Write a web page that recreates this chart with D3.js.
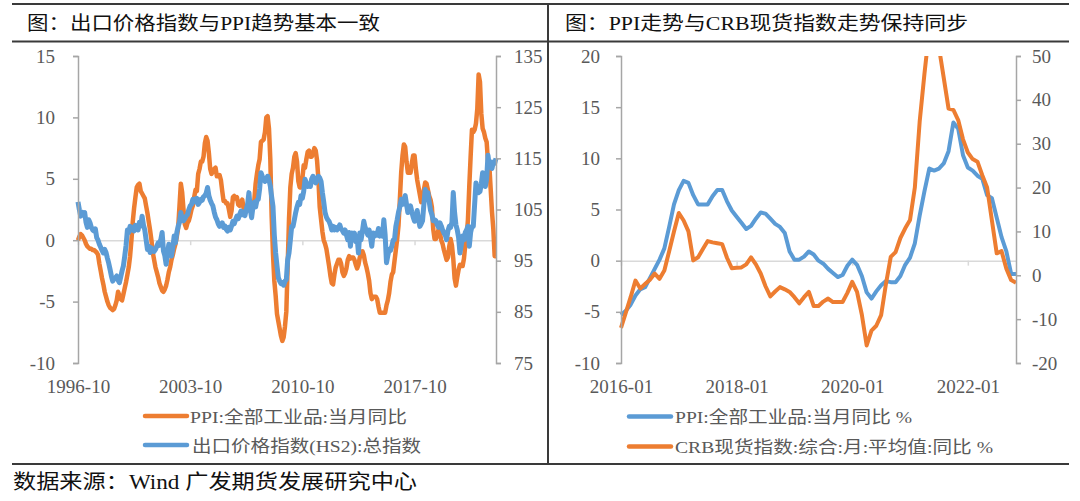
<!DOCTYPE html>
<html><head><meta charset="utf-8">
<script src="https://cdn.jsdelivr.net/npm/d3@7"></script>
<style>body{margin:0;background:#fff}svg{display:block}</style>
</head><body>
<svg id="c" width="1080" height="501"></svg>
<script>
// ---------- DATA ----------
const leftCategories = d3.timeMonth.range(new Date(1996, 9, 1), new Date(2022, 11, 1)).map(d3.timeFormat("%Y-%m"));
const leftTickLabels = ["1996-10", "2003-10", "2010-10", "2017-10"];
const leftYTicks = [-10, -5, 0, 5, 10, 15];
const leftY2Ticks = [75, 85, 95, 105, 115, 125, 135];

const ppiLong = [
  0.0, 0.3, 0.5,
  0.4, 0.2, 0.0, -0.3, -0.5, -0.6, -0.7, -0.7, -0.8, -0.8, -0.9, -1.0,
  -1.2, -1.9, -2.5, -3.1, -3.6, -4.2, -4.6, -5.0, -5.3, -5.5, -5.6, -5.7,
  -5.6, -5.3, -4.9, -4.2, -4.5, -4.8, -4.9, -4.4, -3.9, -3.4, -2.8, -2.2,
  -1.3, 0.0, 1.5, 2.6, 3.5, 4.3, 4.5, 4.6, 4.0, 3.8, 3.6, 3.4,
  2.8, 2.2, 1.5, 0.8, 0.0, -1.0, -1.6, -2.2, -2.6, -3.0, -3.5, -3.8,
  -4.1, -4.2, -4.0, -3.7, -3.2, -2.6, -2.2, -1.6, -1.2, -0.7, -0.3, 0.3,
  1.0, 2.8, 4.6, 3.9, 2.5, 1.3, 1.0, 1.4, 1.6, 2.0, 2.5, 2.8,
  3.5, 4.1, 4.0, 5.4, 5.8, 6.4, 6.4, 6.8, 7.9, 8.4, 8.1, 7.1,
  5.8, 5.4, 5.6, 5.8, 5.9, 5.2, 5.2, 5.3, 4.9, 4.0, 3.2, 3.2,
  3.0, 3.0, 2.5, 1.9, 2.4, 3.5, 3.6, 3.4, 3.5, 2.9, 2.8, 3.1,
  3.3, 2.6, 2.7, 2.8, 2.8, 2.5, 2.4, 2.6, 2.7, 3.2, 4.6, 5.4,
  6.1, 6.6, 8.0, 8.1, 8.2, 8.8, 10.0, 10.1, 9.1, 6.6, 2.0, -1.1,
  -3.3, -4.5, -6.0, -6.6, -7.2, -7.8, -8.2, -7.9, -7.0, -5.8, -2.1, 1.7,
  4.3, 5.4, 5.9, 6.8, 7.1, 6.4, 4.8, 4.3, 4.3, 5.0, 6.1, 5.9,
  6.6, 7.2, 7.3, 6.8, 6.8, 7.1, 7.5, 7.3, 6.5, 5.0, 2.7, 1.7,
  0.7, 0.0, -0.3, -0.7, -1.4, -2.1, -2.9, -3.5, -3.6, -2.8, -2.2, -1.9,
  -1.6, -1.6, -1.9, -2.6, -2.9, -2.7, -2.3, -1.6, -1.3, -1.5, -1.4, -1.4,
  -1.6, -2.0, -2.3, -2.0, -1.4, -1.1, -0.9, -1.2, -1.8, -2.2, -2.7, -3.3,
  -4.3, -4.8, -4.6, -4.6, -4.6, -4.8, -5.4, -5.9, -5.9, -5.9, -5.9, -5.9,
  -5.3, -4.9, -4.3, -3.4, -2.8, -2.6, -1.7, -0.8, 0.1, 1.2, 3.3, 5.5,
  6.9, 7.8, 7.6, 6.4, 5.5, 5.5, 5.5, 6.3, 6.9, 6.9, 5.8, 4.9,
  4.3, 3.7, 3.1, 3.4, 4.1, 4.7, 4.6, 4.1, 3.6, 3.3, 2.7, 0.9,
  0.1, 0.1, 0.4, 0.9, 0.6, 0.0, -0.3, -0.8, -1.2, -1.6, -1.4, -0.5,
  0.1, -0.4, -1.5, -3.1, -3.7, -3.0, -2.4, -2.0, -2.1, -2.1, -1.5, -0.4,
  0.3, 1.7, 4.4, 6.8, 9.0, 8.8, 9.0, 9.5, 10.7, 13.5, 12.9, 10.3,
  9.1, 8.8, 8.3, 8.0, 6.4, 6.1, 4.2, 2.3, 0.9, -1.3, -1.3
];

const exportPrice = [
  106.5, 105.0, 103.7,
  104.5, 104.2, 104.4, 102.5, 101.5, 103.0, 102.4, 101.5, 101.0, 100.8, 101.2, 99.5,
  99.0, 98.2, 97.6, 97.0, 96.5, 97.2, 96.6, 95.5, 94.5, 93.3, 92.0, 91.0,
  91.5, 91.7, 92.0, 91.2, 90.7, 91.8, 93.0, 94.0, 95.9, 98.0, 101.0, 100.5,
  101.7, 101.0, 101.5, 100.8, 101.9, 101.2, 101.0, 102.5, 101.8, 103.7, 102.0, 101.0,
  99.1, 97.2, 97.8, 96.6, 97.5, 97.0, 96.8, 97.2, 97.8, 98.5, 98.0, 99.1,
  100.5, 96.9, 96.0, 94.3, 96.5, 98.2, 97.0, 95.9, 97.5, 99.8, 98.5, 100.5,
  101.7, 102.5, 104.4, 103.0, 102.8, 103.2, 103.7, 104.0, 105.0, 105.7, 106.0, 107.0,
  107.0, 106.5, 107.2, 106.0, 106.4, 107.0, 106.8, 107.5, 107.7, 108.2, 109.3, 107.7,
  106.8, 106.2, 105.7, 104.5, 103.5, 103.0, 102.2, 101.7, 102.0, 102.4, 101.5, 101.8,
  101.1, 100.8, 101.5, 101.0, 101.8, 102.7, 102.2, 103.0, 103.7, 103.2, 104.0, 104.7,
  104.0, 104.5, 103.8, 105.0, 106.0, 108.3, 105.0, 103.4, 105.5, 106.4, 105.5, 106.8,
  107.0, 109.0, 112.2, 111.5, 110.9, 110.5, 111.0, 111.5, 110.8, 109.6, 107.5, 105.6,
  100.0, 96.5, 94.0, 91.7, 91.0, 90.5, 90.7, 90.2, 91.0, 91.3, 95.2, 96.5,
  99.0, 101.7, 101.7, 103.0, 104.4, 105.5, 106.4, 106.0, 107.7, 107.2, 108.5, 110.9,
  110.2, 109.5, 110.0, 109.5, 111.0, 111.5, 110.5, 110.2, 110.9, 111.5, 111.2, 110.5,
  108.3, 106.5, 104.4, 103.5, 103.0, 102.7, 102.0, 101.0, 101.7, 101.0, 101.5, 101.0,
  101.5, 102.0, 101.2, 100.9, 100.4, 101.0, 100.0, 99.1, 100.5, 97.8, 100.4, 99.5,
  100.4, 98.7, 99.5, 96.5, 100.4, 99.1, 100.8, 102.7, 101.5, 100.8, 100.0, 101.0,
  99.5, 97.8, 100.4, 99.8, 100.4, 100.0, 101.3, 99.8, 100.5, 99.8, 103.0, 100.0,
  94.6, 96.0, 97.2, 97.0, 97.8, 99.0, 99.1, 101.7, 103.0, 104.5, 105.5, 107.0,
  106.0, 107.0, 107.7, 106.0, 104.4, 104.8, 105.7, 104.5, 103.5, 102.7, 103.8, 104.8,
  103.0, 101.7, 102.2, 102.8, 106.0, 108.9, 107.5, 108.3, 106.5, 104.8, 104.0, 102.8,
  103.0, 102.8, 102.0, 101.5, 102.4, 101.8, 101.0, 100.4, 100.0, 99.1, 100.8, 101.7,
  101.5, 102.5, 108.3, 104.4, 102.0, 101.0, 99.5, 96.5, 98.0, 99.8, 99.1, 100.5,
  101.0, 101.7, 97.8, 100.5, 101.7, 101.7, 106.0, 110.2, 109.0, 108.3, 108.5, 110.0,
  112.2, 111.0, 109.5, 111.0, 115.6, 113.5, 114.3, 113.0, 114.3, 114.0, 115.0
];

const rightCategories = d3.timeMonth.range(new Date(2016, 0, 1), new Date(2022, 11, 1)).map(d3.timeFormat("%Y-%m"));
const rightTickLabels = ["2016-01", "2018-01", "2020-01", "2022-01"];
const rightYTicks = [-10, -5, 0, 5, 10, 15, 20];
const rightY2Ticks = [-20, -10, 0, 10, 20, 30, 40, 50];

const ppiShort = [
  -5.3, -4.9, -4.3, -3.4, -2.8, -2.6, -1.7, -0.8, 0.1, 1.2, 3.3, 5.5,
  6.9, 7.8, 7.6, 6.4, 5.5, 5.5, 5.5, 6.3, 6.9, 6.9, 5.8, 4.9,
  4.3, 3.7, 3.1, 3.4, 4.1, 4.7, 4.6, 4.1, 3.6, 3.3, 2.7, 0.9,
  0.1, 0.1, 0.4, 0.9, 0.6, 0.0, -0.3, -0.8, -1.2, -1.6, -1.4, -0.5,
  0.1, -0.4, -1.5, -3.1, -3.7, -3.0, -2.4, -2.0, -2.1, -2.1, -1.5, -0.4,
  0.3, 1.7, 4.4, 6.8, 9.0, 8.8, 9.0, 9.5, 10.7, 13.5, 12.9, 10.3,
  9.1, 8.8, 8.3, 8.0, 6.4, 6.1, 4.2, 2.3, 0.9, -1.3, -1.3
];
const crbSpot = [
  -12.0, -8.5, -5.0, -1.2, -3.0, -2.0, -1.0, 0.4, -0.8, 1.1, 5.5, 10.0,
  14.2, 12.5, 10.0, 3.4, 4.1, 6.0, 7.8, 7.5, 7.3, 7.1, 4.0, 1.6,
  1.7, 1.8, 2.5, 4.1, 2.5, 0.4, -2.5, -4.8, -3.7, -2.7, -3.2, -3.8,
  -5.0, -6.4, -5.0, -3.8, -7.0, -7.0, -6.0, -5.3, -6.1, -6.1, -6.1, -4.0,
  -1.5, -3.8, -9.0, -16.0, -12.6, -11.5, -9.1, -2.0, 4.2, 5.3, 8.5, 10.7,
  12.6, 20.0, 35.0, 46.0, 56.0, 58.0, 52.0, 45.0, 38.0, 37.7, 35.4, 31.0,
  28.0, 26.5, 25.9, 22.8, 20.0, 12.5, 5.0, 5.5, 1.5, -1.1, -1.7
];

const leftTitle = "图：出口价格指数与PPI趋势基本一致";
const rightTitle = "图：PPI走势与CRB现货指数走势保持同步";
const leftLegend = ["PPI:全部工业品:当月同比", "出口价格指数(HS2):总指数"];
const rightLegend = ["PPI:全部工业品:当月同比 %", "CRB现货指数:综合:月:平均值:同比 %"];
const sourceText = "数据来源：Wind  广发期货发展研究中心";

// ---------- STYLE ----------
const ORANGE = "#ED7D31", BLUE = "#5B9BD5";
const fontNum = "'Liberation Serif','Times New Roman',serif";
const fontMix = "'Liberation Serif','Noto Sans CJK SC',serif";
const axisColor = "#a6a6a6", gridColor = "#d9d9d9", labelColor = "#595959";

const svg = d3.select("#c");

// frame lines
const frame = svg.append("g").attr("stroke", "#3a3a3a").attr("stroke-width", 2);
[[12, 4, 1069, 4], [12, 41.5, 1069, 41.5], [12, 464, 1069, 464], [548, 4, 548, 464]]
  .forEach(([x1, y1, x2, y2]) => frame.append("line").attr("x1", x1).attr("y1", y1).attr("x2", x2).attr("y2", y2));

function textFit(x, y, str, len, size, color) {
  svg.append("text").attr("x", x).attr("y", y).attr("textLength", len).attr("lengthAdjust", "spacingAndGlyphs")
    .style("font-family", fontMix).style("font-size", size + "px").attr("fill", color).text(str);
}
textFit(27, 30, leftTitle, 353, 19, "#111");
textFit(565, 30, rightTitle, 403, 19, "#111");
textFit(13, 489, sourceText, 404, 20.5, "#111");

function styleAxis(g, lineColor) {
  g.select(".domain").attr("stroke", lineColor).attr("stroke-width", 1.5);
  g.selectAll(".tick line").attr("stroke", lineColor).attr("stroke-width", 1.5);
  g.selectAll(".tick text").attr("fill", labelColor).style("font-family", fontNum).style("font-size", "19px");
}

function panel(o) {
  const g = svg.append("g");
  const x = d3.scalePoint().domain(o.cats).range([o.x0, o.x1]);
  const y = d3.scaleLinear().domain(o.yDom).range([o.yB, o.yT]);
  const y2 = d3.scaleLinear().domain(o.y2Dom).range([o.yB, o.yT]);

  // category axis on zero line
  const gx = g.append("g").attr("transform", `translate(0,${y(0)})`)
    .call(d3.axisBottom(x).tickValues(o.tickCats).tickSize(5).tickSizeOuter(0).tickPadding(380 - y(0) - 5).tickFormat(d => d));
  styleAxis(gx, gridColor);

  const clipId = "clip" + o.id;
  g.append("clipPath").attr("id", clipId).append("rect")
    .attr("x", o.x0 - 5).attr("y", o.yT).attr("width", o.x1 - o.x0 + 10).attr("height", o.yB - o.yT);

  o.series.forEach(s => {
    const sc = s.axis === 2 ? y2 : y;
    const line = d3.line().x((d, i) => x(o.cats[i])).y(d => sc(d));
    g.append("path").datum(s.values).attr("d", line).attr("fill", "none")
      .attr("stroke", s.color).attr("stroke-width", s.width).attr("stroke-linejoin", "round")
      .attr("clip-path", `url(#${clipId})`);
  });

  const gl = g.append("g").attr("transform", `translate(${o.x0},0)`)
    .call(d3.axisLeft(y).tickValues(o.yTicks).tickSize(5).tickPadding(o.padL).tickFormat(d => String(d)));
  styleAxis(gl, axisColor);
  const gr = g.append("g").attr("transform", `translate(${o.x1},0)`)
    .call(d3.axisRight(y2).tickValues(o.y2Ticks).tickSize(5).tickPadding(o.padR).tickFormat(d => String(d)));
  styleAxis(gr, axisColor);

  // legend
  o.legend.forEach((L, i) => {
    g.append("line").attr("x1", L.lx1).attr("x2", L.lx2).attr("y1", L.ly).attr("y2", L.ly)
      .attr("stroke", L.color).attr("stroke-width", 4.5).attr("stroke-linecap", "round");
    g.append("text").attr("x", L.tx).attr("y", L.ty).attr("textLength", L.len).attr("lengthAdjust", "spacingAndGlyphs")
      .style("font-family", fontMix).style("font-size", "16.5px").attr("fill", labelColor).text(L.text);
  });
}

panel({
  id: "L", cats: leftCategories, tickCats: leftTickLabels,
  x0: 78, x1: 496, yT: 56, yB: 363,
  yDom: [-10, 15], y2Dom: [75, 135], yTicks: leftYTicks, y2Ticks: leftY2Ticks, padL: 18, padR: 13,
  series: [
    { values: ppiLong, axis: 1, color: ORANGE, width: 4.5 },
    { values: exportPrice, axis: 2, color: BLUE, width: 5 }
  ],
  legend: [
    { lx1: 145, lx2: 187, ly: 416, tx: 190, ty: 423, len: 217, text: leftLegend[0], color: ORANGE },
    { lx1: 145, lx2: 187, ly: 445, tx: 192, ty: 452, len: 229, text: leftLegend[1], color: BLUE }
  ]
});

panel({
  id: "R", cats: rightCategories, tickCats: rightTickLabels,
  x0: 621, x1: 1016, yT: 56, yB: 363,
  yDom: [-10, 20], y2Dom: [-20, 50], yTicks: rightYTicks, y2Ticks: rightY2Ticks, padL: 16, padR: 11,
  series: [
    { values: ppiShort, axis: 1, color: BLUE, width: 4 },
    { values: crbSpot, axis: 2, color: ORANGE, width: 4 }
  ],
  legend: [
    { lx1: 629, lx2: 671, ly: 416.5, tx: 675, ty: 423, len: 237, text: rightLegend[0], color: BLUE },
    { lx1: 629, lx2: 671, ly: 446.5, tx: 675, ty: 453, len: 318, text: rightLegend[1], color: ORANGE }
  ]
});
</script>
</body></html>
